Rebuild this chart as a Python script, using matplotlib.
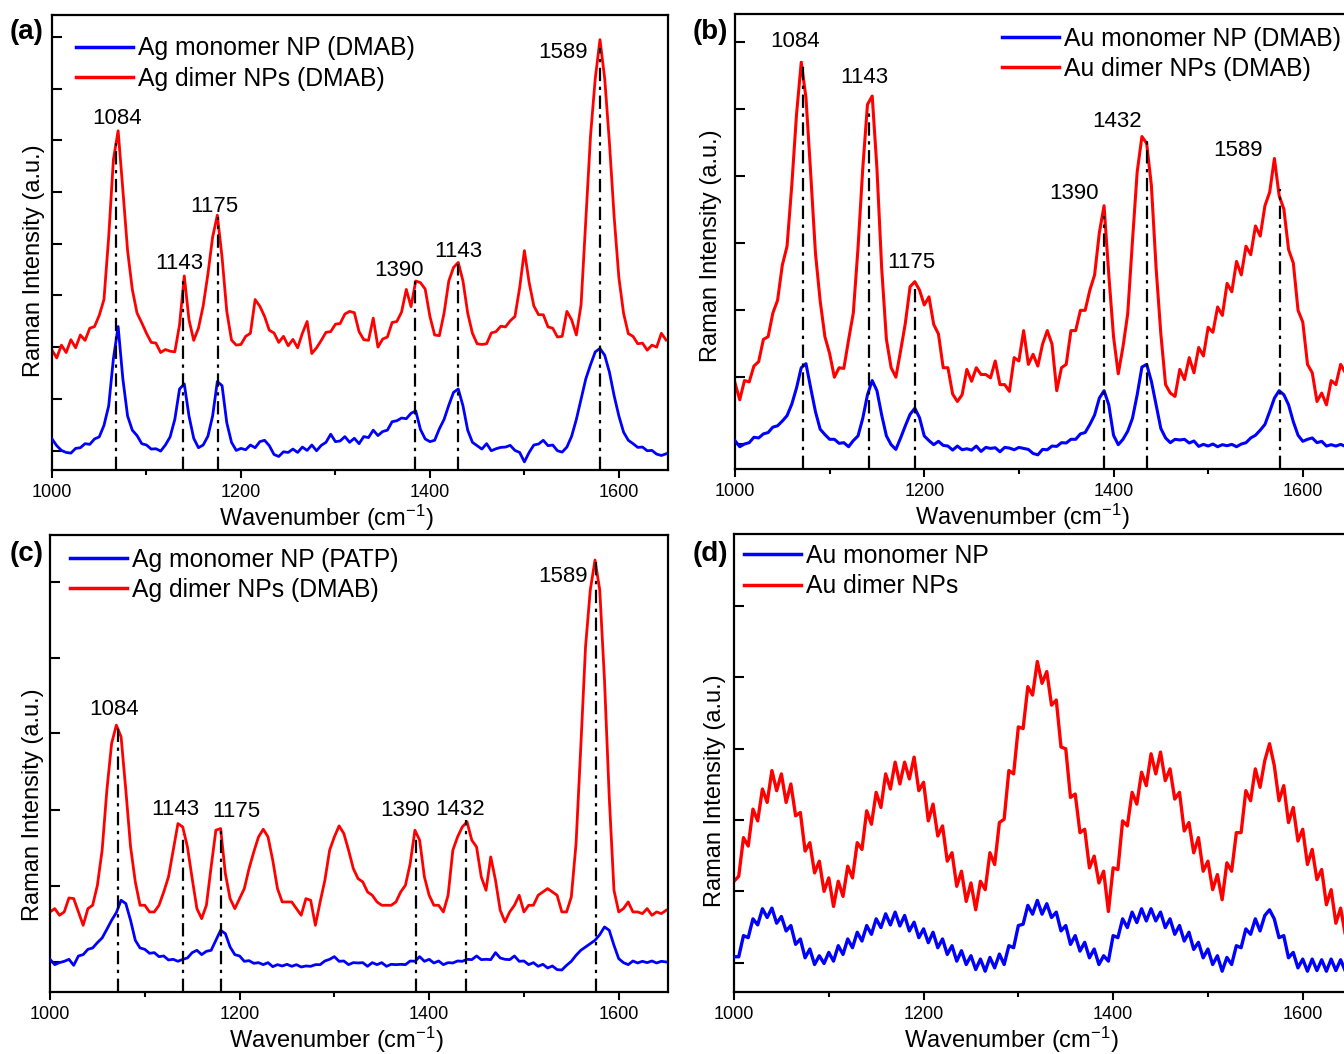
import numpy as np
import matplotlib
matplotlib.use("Agg")
import matplotlib.pyplot as plt
from matplotlib.ticker import FixedLocator, MultipleLocator

plt.rcParams['font.family'] = ['Liberation Sans', 'DejaVu Sans']
plt.rcParams['mathtext.fontset'] = 'custom'
plt.rcParams['mathtext.rm'] = 'Liberation Sans'
plt.rcParams['mathtext.it'] = 'Liberation Sans:italic'

# wavenumber grid shared by all spectra (cm-1), 5 cm-1 steps
wavenumber = np.arange(1000, 1651, 5)

# ---- (a) Ag, DMAB ----
a_blue = [92, 72, 58, 52, 50, 64, 66, 78, 76, 92,
          98, 132, 190, 330, 425, 270, 160, 118, 102, 78,
          74, 62, 63, 56, 74, 98, 150, 240, 255, 160,
          94, 66, 74, 100, 160, 262, 250, 140, 82, 58,
          64, 60, 74, 66, 84, 88, 72, 46, 40, 54,
          52, 62, 52, 68, 58, 74, 57, 73, 82, 106,
          84, 86, 99, 82, 94, 78, 99, 96, 118, 102,
          114, 118, 143, 146, 154, 152, 168, 175, 120, 92,
          84, 88, 122, 150, 192, 230, 240, 190, 118, 82,
          72, 62, 78, 57, 63, 67, 68, 73, 58, 52,
          24, 52, 74, 77, 88, 72, 74, 57, 53, 68,
          100, 150, 210, 270, 312, 350, 360, 340, 290, 220,
          160, 112, 88, 78, 67, 68, 57, 58, 47, 43,
          48]
a_red = [355, 332, 370, 348, 386, 362, 400, 384, 420, 425,
         458, 505, 690, 920, 1005, 830, 650, 535, 465, 436,
         405, 378, 376, 348, 357, 352, 350, 430, 575, 445,
         384, 420, 486, 580, 690, 755, 630, 470, 385, 370,
         372, 396, 405, 505, 485, 455, 414, 406, 378, 396,
         368, 387, 362, 405, 440, 345, 362, 384, 408, 410,
         432, 434, 462, 470, 466, 410, 386, 384, 450, 364,
         388, 394, 437, 440, 468, 535, 484, 560, 555, 536,
         455, 400, 398, 465, 560, 600, 615, 560, 465, 405,
         374, 372, 374, 406, 410, 426, 424, 442, 455, 540,
         650, 556, 486, 460, 460, 424, 420, 394, 396, 470,
         445, 400, 490, 740, 990, 1160, 1275, 1160, 970, 750,
         570, 464, 404, 396, 374, 376, 355, 370, 364, 405,
         385]
a_yticks = [57, 210, 364, 517, 670, 824, 977, 1130, 1284]
a_peak_x = [1068, 1139, 1176, 1384, 1430, 1580]
a_peak_top = [970, 570, 750, 560, 610, 1250]
a_labels = ["1084", "1143", "1175", "1390", "1143", "1589"]
a_label_x = [1068.5, 1134.7, 1172, 1367.6, 1430, 1541]
a_label_y = [1025, 595, 765, 575, 630, 1220]

# ---- (b) Au, DMAB ----
b_blue = [84, 66, 74, 78, 94, 92, 104, 108, 124, 128,
          142, 158, 192, 240, 300, 312, 240, 170, 118, 102,
          88, 88, 76, 78, 66, 84, 98, 150, 220, 262,
          232, 160, 98, 72, 58, 92, 128, 162, 180, 152,
          98, 84, 72, 82, 70, 68, 56, 68, 57, 60,
          56, 68, 52, 64, 61, 63, 51, 64, 62, 57,
          64, 61, 58, 46, 42, 58, 57, 68, 67, 78,
          77, 88, 88, 104, 108, 132, 160, 210, 232, 190,
          100, 72, 88, 112, 150, 220, 302, 310, 260, 190,
          120, 92, 78, 88, 86, 88, 77, 83, 67, 73,
          68, 74, 66, 72, 69, 73, 66, 74, 78, 92,
          100, 115, 132, 170, 210, 232, 220, 190, 140, 100,
          82, 88, 92, 78, 82, 68, 72, 68, 73, 67,
          72]
b_red = [255, 205, 262, 258, 305, 318, 384, 392, 462, 500,
         604, 660, 840, 1050, 1205, 1100, 875, 640, 498, 392,
         342, 272, 300, 298, 382, 462, 655, 890, 1080, 1105,
         890, 595, 384, 300, 272, 350, 432, 540, 555, 530,
         486, 510, 428, 400, 300, 300, 222, 200, 220, 295,
         260, 300, 280, 280, 270, 320, 250, 250, 230, 330,
         320, 410, 310, 340, 305, 370, 410, 370, 232, 300,
         310, 410, 410, 470, 470, 530, 575, 700, 780, 575,
         392, 282, 362, 460, 675, 880, 985, 965, 840, 595,
         400, 250, 225, 215, 295, 265, 330, 285, 360, 335,
         420, 405, 480, 455, 550, 525, 615, 575, 660, 635,
         720, 690, 780, 820, 920, 810, 770, 650, 610, 470,
         435, 310, 285, 200, 225, 190, 262, 250, 310, 285,
         315]
b_yticks = [75, 273, 472, 670, 868, 1067, 1265]
b_peak_x = [1072, 1142, 1190, 1390, 1435, 1576]
b_peak_top = [1210, 1070, 540, 750, 980, 830]
b_labels = ["1084", "1143", "1175", "1390", "1432", "1589"]
b_label_x = [1063, 1137, 1186, 1358, 1404, 1532]
b_label_y = [1250, 1145, 595, 800, 1012, 927]

# ---- (c) Ag, PATP vs DMAB ----
c_blue = [98, 82, 88, 92, 98, 80, 108, 112, 128, 132,
          148, 162, 188, 215, 238, 275, 265, 215, 155, 132,
          128, 116, 118, 106, 108, 96, 98, 92, 98, 102,
          118, 125, 112, 122, 125, 155, 185, 175, 135, 112,
          108, 92, 94, 86, 88, 82, 88, 76, 82, 78,
          83, 77, 82, 75, 78, 77, 82, 82, 93, 98,
          106, 92, 93, 82, 88, 87, 88, 77, 88, 82,
          88, 77, 83, 82, 83, 82, 93, 92, 106, 92,
          98, 87, 93, 82, 88, 87, 93, 92, 98, 97,
          108, 97, 98, 97, 118, 102, 98, 97, 108, 92,
          93, 82, 88, 77, 83, 72, 78, 67, 66, 80,
          92, 110, 125, 135, 145, 155, 172, 195, 185, 140,
          100, 88, 82, 93, 87, 92, 88, 93, 87, 92,
          90]
c_red = [240, 250, 230, 240, 282, 280, 240, 200, 250, 260,
         320, 425, 605, 745, 800, 765, 605, 435, 330, 260,
         260, 240, 240, 260, 300, 345, 425, 505, 495, 435,
         340, 250, 220, 260, 375, 485, 490, 355, 280, 250,
         280, 310, 370, 420, 465, 488, 465, 395, 310, 270,
         270, 270, 250, 230, 280, 275, 200, 270, 335, 425,
         465, 498, 475, 425, 370, 340, 330, 300, 290, 270,
         260, 260, 260, 270, 300, 320, 385, 485, 455, 345,
         290, 260, 260, 240, 290, 425, 465, 495, 510, 455,
         435, 345, 305, 405, 335, 245, 210, 240, 260, 290,
         240, 260, 260, 290, 300, 310, 300, 290, 240, 240,
         285, 445, 735, 1035, 1205, 1295, 1205, 935, 585, 305,
         240, 250, 270, 240, 240, 235, 250, 230, 240, 235,
         245]
c_yticks = [90, 317, 547, 775, 1002, 1230]
c_peak_x = [1072, 1140, 1180, 1386, 1439, 1576]
c_peak_top = [795, 475, 485, 475, 515, 1290]
c_labels = ["1084", "1143", "1175", "1390", "1432", "1589"]
c_label_x = [1068, 1132, 1197, 1375, 1433, 1541]
c_label_y = [830, 530, 525, 527, 530, 1230]

# ---- (d) Au, no probe ----
d_blue = [105, 105, 168, 162, 218, 200, 248, 222, 250, 205,
          225, 182, 198, 142, 158, 102, 128, 82, 108, 85,
          118, 92, 138, 112, 158, 132, 178, 152, 198, 172,
          218, 192, 233, 200, 238, 197, 228, 182, 208, 162,
          188, 147, 178, 132, 158, 112, 138, 92, 123, 82,
          108, 67, 98, 62, 103, 72, 113, 82, 138, 132,
          198, 202, 258, 232, 273, 232, 263, 222, 238, 182,
          198, 142, 168, 122, 148, 102, 128, 82, 108, 92,
          168, 162, 218, 192, 238, 207, 248, 212, 248, 212,
          238, 192, 218, 172, 198, 152, 178, 127, 148, 102,
          128, 82, 108, 62, 103, 82, 138, 132, 188, 172,
          218, 182, 228, 245, 218, 162, 168, 102, 118, 72,
          98, 62, 98, 64, 96, 62, 98, 64, 96, 62,
          90]
d_red = [330, 345, 460, 435, 545, 510, 605, 565, 660, 600,
         650, 565, 620, 525, 535, 420, 445, 355, 390, 300,
         340, 255, 330, 285, 375, 340, 445, 425, 540, 500,
         595, 550, 650, 605, 685, 620, 685, 635, 700, 600,
         625, 510, 560, 465, 495, 390, 415, 315, 360, 270,
         325, 245, 330, 305, 415, 380, 505, 515, 660, 650,
         790, 785, 910, 885, 985, 920, 955, 855, 870, 730,
         725, 580, 590, 475, 485, 370, 405, 325, 360, 240,
         370, 365, 510, 495, 595, 560, 655, 615, 710, 650,
         715, 630, 665, 575, 595, 480, 505, 415, 460, 360,
         390, 305, 350, 275, 385, 360, 475, 475, 600, 570,
         665, 610, 690, 740, 675, 570, 615, 505, 550, 450,
         485, 380, 425, 335, 365, 260, 305, 205, 250, 170,
         210]
d_yticks = [87, 300, 512, 725, 938, 1150]

BLUE = '#0000FF'
RED = '#FF0000'
W, H = 1344, 1054


def px_axes(fig, left, top, right, bottom):
    # axes box given in pixels of the final image
    return fig.add_axes([left / W, (H - bottom) / H, (right - left) / W, (bottom - top) / H])


def style_axes(ax, yticks, ytop):
    ax.set_xlim(1000, 1652)
    ax.set_ylim(0, ytop)
    ax.xaxis.set_major_locator(MultipleLocator(200))
    ax.xaxis.set_minor_locator(MultipleLocator(100))
    ax.yaxis.set_major_locator(FixedLocator(yticks))
    ax.set_yticklabels([])
    ax.tick_params(axis='x', which='major', direction='out', length=6, width=1.5,
                   labelsize=13, pad=4)
    ax.tick_params(axis='x', which='minor', direction='out', length=3.5, width=1.5)
    ax.tick_params(axis='y', which='major', direction='in', length=7, width=1.5)
    for s in ax.spines.values():
        s.set_linewidth(1.6)


def plot_panel(ax, blue, red, names, legend_xy, lw=2.0):
    ax.plot(wavenumber, red, color=RED, lw=lw, label=names[1], zorder=2)
    ax.plot(wavenumber, blue, color=BLUE, lw=lw, label=names[0], zorder=3)
    h, l = ax.get_legend_handles_labels()
    leg = ax.legend(h[::-1], l[::-1], loc='upper left', bbox_to_anchor=legend_xy,
                    frameon=False, fontsize=17.8, handlelength=2.3, handletextpad=0.2,
                    labelspacing=0.25, borderpad=0, borderaxespad=0)
    for line in leg.get_lines():
        line.set_linewidth(2.5)


def mark_peaks(ax, xs, tops, labels, lx, ly):
    for x, t in zip(xs, tops):
        ax.plot([x, x], [0, t], color='black', lw=1.6,
                linestyle=(0, (6, 2.5, 1.5, 2.5)), zorder=4)
    for s, x, y in zip(labels, lx, ly):
        ax.text(x, y, s, ha='center', va='baseline', fontsize=16, zorder=5)


def set_labels(ax, xl_x, yl_x, yl_y):
    ax.set_xlabel('Wavenumber (cm$^{-1}$)', fontsize=17)
    ax.xaxis.set_label_coords(xl_x, -0.071)
    ax.set_ylabel('Raman Intensity (a.u.)', fontsize=17)
    ax.yaxis.set_label_coords(yl_x, yl_y)


fig = plt.figure(figsize=(W / 100, H / 100), dpi=100)

ax_a = px_axes(fig, 52, 15, 668, 470)
ax_b = px_axes(fig, 735, 14, 1352, 469)
ax_c = px_axes(fig, 50, 535, 668, 992)
ax_d = px_axes(fig, 734, 534, 1352, 992)

plot_panel(ax_a, a_blue, a_red, ['Ag monomer NP (DMAB)', 'Ag dimer NPs (DMAB)'], (0.039, 0.953))
style_axes(ax_a, a_yticks, 1348)
mark_peaks(ax_a, a_peak_x, a_peak_top, a_labels, a_label_x, a_label_y)
set_labels(ax_a, 0.446, -0.012, 0.46)

plot_panel(ax_b, b_blue, b_red, ['Au monomer NP (DMAB)', 'Au dimer NPs (DMAB)'], (0.433, 0.972),
           lw=2.2)
style_axes(ax_b, b_yticks, 1348)
mark_peaks(ax_b, b_peak_x, b_peak_top, b_labels, b_label_x, b_label_y)
set_labels(ax_b, 0.465, -0.021, 0.49)

plot_panel(ax_c, c_blue, c_red, ['Ag monomer NP (PATP)', 'Ag dimer NPs (DMAB)'], (0.032, 0.972))
style_axes(ax_c, c_yticks, 1370)
mark_peaks(ax_c, c_peak_x, c_peak_top, c_labels, c_label_x, c_label_y)
set_labels(ax_c, 0.464, -0.01, 0.41)

plot_panel(ax_d, d_blue, d_red, ['Au monomer NP', 'Au dimer NPs'], (0.016, 0.978), lw=2.4)
style_axes(ax_d, d_yticks, 1365)
set_labels(ax_d, 0.448, -0.013, 0.44)

for tag, x, y in [('(a)', 10, 19), ('(b)', 693, 19), ('(c)', 10, 541), ('(d)', 693, 541)]:
    fig.text(x / W, 1 - y / H, tag, fontsize=20, fontweight='bold', ha='left', va='top')

fig.savefig('out.png', dpi=100)
